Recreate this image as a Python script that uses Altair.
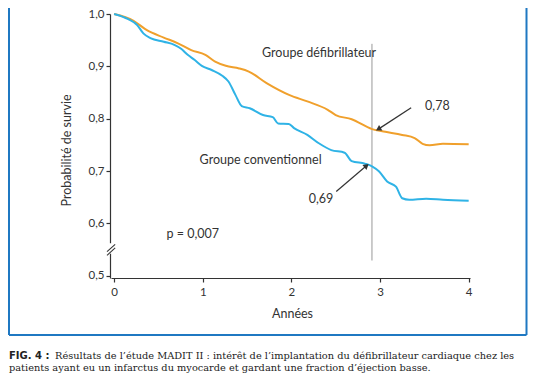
import altair as alt
import pandas as pd

# ---- data ----
years_def = [0, 0.22, 0.37, 0.56, 0.72, 0.87, 1.03, 1.14, 1.26, 1.41, 1.52, 1.72, 1.98, 2.18, 2.41,
             2.50, 2.68, 2.91, 3.06, 3.25, 3.39, 3.48, 3.56, 3.71, 4.0]
surv_def = [1.0, 0.987, 0.969, 0.955, 0.944, 0.931, 0.922, 0.909, 0.901, 0.896, 0.890, 0.868, 0.845,
            0.833, 0.817, 0.807, 0.799, 0.780, 0.775, 0.769, 0.763, 0.752, 0.749, 0.752, 0.751]

years_conv = [0, 0.16, 0.26, 0.33, 0.41, 0.56, 0.68, 0.76, 0.83, 0.91, 0.99, 1.10, 1.22, 1.29, 1.37,
              1.44, 1.53, 1.68, 1.79, 1.85, 1.97, 2.03, 2.18, 2.31, 2.45, 2.60, 2.68, 2.83, 2.91,
              2.99, 3.08, 3.18, 3.25, 3.33, 3.52, 3.71, 4.0]
surv_conv = [1.0, 0.990, 0.979, 0.963, 0.954, 0.947, 0.941, 0.933, 0.922, 0.912, 0.901, 0.893, 0.882,
             0.871, 0.845, 0.824, 0.820, 0.807, 0.803, 0.791, 0.790, 0.782, 0.769, 0.753, 0.740,
             0.735, 0.719, 0.714, 0.709, 0.699, 0.680, 0.670, 0.648, 0.645, 0.647, 0.645, 0.643]

x_ticks = [0, 1, 2, 3, 4]
y_ticks = [0.5, 0.6, 0.7, 0.8, 0.9, 1.0]

ann_text = ["Groupe défibrillateur", "Groupe conventionnel", "0,78", "0,69", "p = 0,007"]
ann_x = [2.312, 1.653, 3.647, 2.335, 0.887]
ann_y = [0.925, 0.721, 0.824, 0.646, 0.580]

arrow_x = [3.351, 2.506]
arrow_y = [0.821, 0.661]
arrow_x2 = [2.990, 2.840]
arrow_y2 = [0.781, 0.709]
arrow_tip_x = [2.990, 2.840]
arrow_tip_y = [0.781, 0.709]
arrow_angle = [239, 50]

marker_year = 2.909
marker_top = 0.943
marker_bottom = 0.529

caption1_lead = "FIG. 4 :"
caption1 = "Résultats de l’étude MADIT II : intérêt de l’implantation du défibrillateur cardiaque chez les"
caption2 = "patients ayant eu un infarctus du myocarde et gardant une fraction d’éjection basse."

ORANGE = "#f0a02c"
BLUE = "#2fb3e6"
DARK = "#333333"
FRAME = "#1f78c2"
FONT = "Lato"

curves = pd.DataFrame({
    "year": years_def + years_conv,
    "surv": surv_def + surv_conv,
    "group": ["Défibrillateur"] * len(years_def) + ["Conventionnel"] * len(years_conv),
})
ann = pd.DataFrame({"t": ann_text, "x": ann_x, "y": ann_y})
arrows = pd.DataFrame({"x": arrow_x, "y": arrow_y, "x2": arrow_x2, "y2": arrow_y2})
tips = pd.DataFrame({"x": arrow_tip_x, "y": arrow_tip_y, "a": arrow_angle})

xs = alt.Scale(domain=[-0.035, 4.015], nice=False, zero=False)
ys = alt.Scale(domain=[0.4956, 1.0], nice=False, zero=False)

lines = alt.Chart(curves).mark_line(strokeWidth=2, interpolate="monotone").encode(
    x=alt.X("year:Q", scale=xs, axis=alt.Axis(
        values=x_ticks, title="Années", labelExpr="datum.value", grid=False,
        tickSize=4, labelPadding=4, titleX=181, titleY=35, titleBaseline="middle",
        titleAlign="center")),
    y=alt.Y("surv:Q", scale=ys, axis=alt.Axis(
        values=y_ticks, title="Probabilité de survie",
        labelExpr="replace(format(datum.value, '.1f'), '.', ',')", grid=False,
        tickSize=4, labelPadding=2, offset=1, titleX=-44, titleY=136, titleAngle=-90,
        titleBaseline="middle", titleAlign="center")),
    color=alt.Color("group:N", scale=alt.Scale(domain=["Défibrillateur", "Conventionnel"],
                                                range=[ORANGE, BLUE]), legend=None),
)

vline = alt.Chart(alt.Data(values=[{"x": marker_year, "y": marker_top, "y2": marker_bottom}])).mark_rule(
    color="#999999", strokeWidth=1).encode(x=alt.X("x:Q", scale=xs), y=alt.Y("y:Q", scale=ys), y2="y2:Q")

texts = alt.Chart(ann).mark_text(font=FONT, fontSize=12.5, color=DARK, align="center",
                                 baseline="middle").encode(
    x=alt.X("x:Q", scale=xs), y=alt.Y("y:Q", scale=ys), text="t:N")

arrow_lines = alt.Chart(arrows).mark_rule(color=DARK, strokeWidth=1.2).encode(
    x=alt.X("x:Q", scale=xs), y=alt.Y("y:Q", scale=ys), x2="x2:Q", y2="y2:Q")

arrow_heads = alt.Chart(tips).mark_point(shape="triangle", filled=True, size=40, color=DARK,
                                         opacity=1).encode(
    x=alt.X("x:Q", scale=xs), y=alt.Y("y:Q", scale=ys), angle=alt.Angle("a:Q", scale=None))

# axis break marks
brk = alt.Chart(alt.Data(values=[{"y": 0.562, "y2": 0.542}])).mark_rect(color="white").encode(
    x=alt.value(-3), x2=alt.value(1), y=alt.Y("y:Q", scale=ys), y2="y2:Q")
brk_lines = alt.Chart(alt.Data(values=[
    {"x": -0.08, "y": 0.546, "x2": 0.012, "y2": 0.560},
    {"x": -0.08, "y": 0.539, "x2": 0.012, "y2": 0.553},
])).mark_rule(color=DARK, strokeWidth=1.1).encode(
    x=alt.X("x:Q", scale=xs), y=alt.Y("y:Q", scale=ys), x2="x2:Q", y2="y2:Q")

# frame
frame_base = alt.Chart(alt.Data(values=[{}]))
f_left = frame_base.mark_rule(color=FRAME, strokeWidth=2).encode(
    x=alt.value(-102), y=alt.value(-30), y2=alt.value(321))
f_right = frame_base.mark_rule(color=FRAME, strokeWidth=2).encode(
    x=alt.value(415.5), y=alt.value(-30), y2=alt.value(321))
f_bottom = frame_base.mark_rule(color=FRAME, strokeWidth=2).encode(
    x=alt.value(-102), x2=alt.value(415.5), y=alt.value(321))

cap_lead = frame_base.mark_text(font="DejaVu Sans", fontWeight="bold", fontSize=10, color="#222",
                                align="left", baseline="middle").encode(
    x=alt.value(-102), y=alt.value(342), text=alt.value(caption1_lead))
cap1 = frame_base.mark_text(font="DejaVu Serif", fontSize=9.8, color="#222",
                            align="left", baseline="middle").encode(
    x=alt.value(-56), y=alt.value(342), text=alt.value(caption1))
cap2 = frame_base.mark_text(font="DejaVu Serif", fontSize=9.8, color="#222",
                            align="left", baseline="middle").encode(
    x=alt.value(-102), y=alt.value(354), text=alt.value(caption2))

chart = alt.layer(
    f_left, f_right, f_bottom, vline, lines, texts, arrow_lines, arrow_heads, brk, brk_lines,
    cap_lead, cap1, cap2,
).properties(
    width=359, height=264,
    autosize=alt.AutoSizeParams(type="none"),
    padding={"left": 103, "top": 6, "right": 58, "bottom": 96},
    background="white",
).configure_view(stroke=None).configure_axis(
    domainColor=DARK, domainWidth=1.2, tickColor=DARK, tickWidth=1.2,
    labelFont=FONT, labelFontSize=11.5, labelColor=DARK,
    titleFont=FONT, titleFontSize=12.5, titleColor=DARK, titleFontWeight="normal",
)

chart.save("out.html", embed_options={"renderer": "svg", "actions": False})
